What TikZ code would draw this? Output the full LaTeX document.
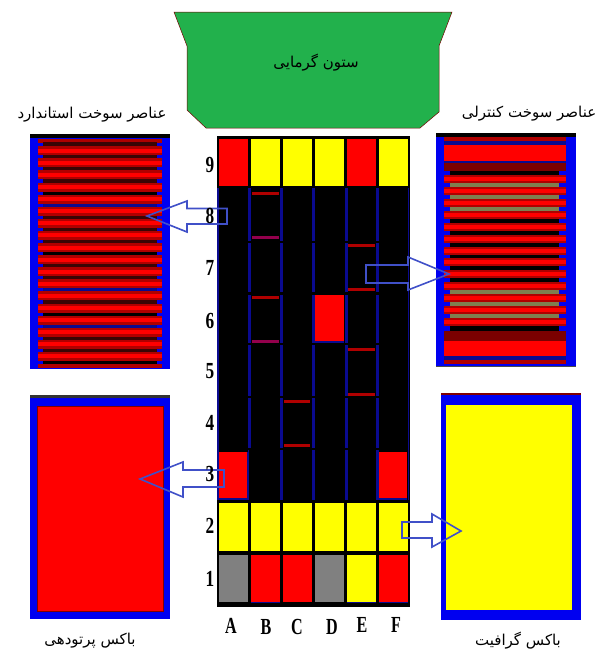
\documentclass[tikz,border=0pt]{standalone}
\usepackage{fontspec}
\usepackage{amsmath}
\usepackage{tikz}
\TeXXeTstate=1
\newfontfamily\arabicfont[Script=Arabic]{DejaVu Sans}
\newfontfamily\labelfont{Liberation Serif}

\definecolor{towergreen}{HTML}{22B14C}
\definecolor{boxblue}{HTML}{0000F0}
\definecolor{linenavy}{HTML}{0A0A90}
\definecolor{arrowblue}{HTML}{4050C8}
\definecolor{plateedge}{HTML}{B00000}
\definecolor{gapdark}{HTML}{3A0505}
\definecolor{rodolive}{HTML}{7F7F50}
\definecolor{boxyellow}{HTML}{FFFF00}

\tikzset{
  faname/.style={font=\arabicfont\fontsize{15}{17}\selectfont, inner sep=0pt},
  rowlabel/.style={font=\labelfont\bfseries\fontsize{23}{23}\selectfont, xscale=0.75, transform shape, inner sep=0pt},
  collabel/.style={font=\labelfont\bfseries\fontsize{23}{23}\selectfont, xscale=0.7, transform shape, inner sep=0pt},
  blockarrow/.style={draw=arrowblue, line width=1.6pt, line join=miter},
  redbar/.style={fill=plateedge},
  thinbar/.style={fill=violet!60!plateedge},
}

\begin{document}
\begin{tikzpicture}[x=1pt, y=-1pt]

\useasboundingbox (0,0) rectangle (606,653);

% thermal column
\draw[fill=towergreen, draw=red!45!black, line width=0.5pt] (174,12) -- (187,46) -- (187,110) -- (206,128)
  -- (420,128) -- (439,112) -- (439,46) -- (452,12) -- cycle;
\node[faname] (column) at (316,63) {\beginR ستون گرمایی\endR};

% core
\fill[black] (217,136) rectangle (410,607);

\foreach \x in {249,281,313,346,377}
  \foreach \ya/\yb in {188/241,243/292,295/343,345/396,398/448,450/500}
    \fill[linenavy] (\x-1.5,\ya) rectangle (\x+1.5,\yb);
\foreach \x in {218,408.5}
  \fill[linenavy] (\x-0.8,188) rectangle (\x+0.8,500);
\fill[black] (248.5,450) rectangle (279.5,500);

\foreach \x/\cola/\colb/\colc in {219/red/boxyellow/gray,251/boxyellow/boxyellow/red,283/boxyellow/boxyellow/red,
    315/boxyellow/boxyellow/gray,347/red/boxyellow/boxyellow,379/boxyellow/boxyellow/red} {
  \fill[\cola] (\x,139) rectangle (\x+28.5,186);
  \fill[\colb] (\x,503) rectangle (\x+28.5,551);
  \fill[\colc] (\x,555) rectangle (\x+28.5,602);
}
\foreach \x in {251,347,379}
  \fill[linenavy] (\x,602) rectangle (\x+28.5,603);

\fill[red] (219,451.5) rectangle (247,498);
\fill[red] (379,451.5) rectangle (407,498);
\fill[red] (315,295) rectangle (343.5,341);
\fill[linenavy] (219,498) rectangle (248.5,500);
\fill[linenavy] (247,451.5) rectangle (248.5,500);
\fill[linenavy] (379,498) rectangle (407,500);
\fill[linenavy] (315,341) rectangle (343.5,342.5);

\foreach \y in {193,297}
  \fill[redbar] (252,\y-1.5) rectangle (279,\y+1.5);
\foreach \y in {237,341}
  \fill[thinbar] (252,\y-1.5) rectangle (279,\y+1.5);
\foreach \y in {245,289,349,394}
  \fill[redbar] (348,\y-1.5) rectangle (375,\y+1.5);
\foreach \y in {401,445}
  \fill[redbar] (284,\y-1.5) rectangle (310,\y+1.5);

% standard fuel
\fill[boxblue] (30,134) rectangle (170,369);
\fill[black] (30,134) rectangle (170,138);
\fill[plateedge] (38,139) rectangle (162,142.5);
\fill[plateedge] (38,364) rectangle (162,368);
\foreach \y/\gapcol in {144.5/gapdark,157/gapdark,169/gapdark,181/gapdark,192.5/black,204.5/linenavy,217/gapdark,229/gapdark,
    241/gapdark,253/black,265/gapdark,277/gapdark,289.5/linenavy,301.5/gapdark,314/black,326/linenavy,338/gapdark,350/gapdark,361/black}
  \fill[\gapcol] (43,\y-3) rectangle (157,\y+3);
\foreach \y in {150.7,162.8,174.9,187,199.1,211.2,223.3,235.4,247.5,259.6,271.7,283.8,295.9,308,320.1,332.2,344.3,356.4} {
  \fill[plateedge] (38,\y-4.5) rectangle (162,\y+4.5);
  \fill[red] (38,\y-2) rectangle (162,\y+2);
}

% control fuel
\fill[boxblue] (436,133) rectangle (576,367);
\fill[black] (436,133) rectangle (576,137);
\fill[plateedge] (444,137) rectangle (566,141);
\fill[linenavy] (444,141) rectangle (566,145);
\fill[red] (444,145) rectangle (566,161);
\fill[linenavy] (444,161) rectangle (566,163);
\fill[plateedge!70!black] (444,163) rectangle (566,171);
\foreach \y/\gapcol in {173/black,185/rodolive,197/rodolive,209/rodolive,221/black,233/black,245/black,
    257/black,268/black,280/black,292/rodolive,304/rodolive,316/rodolive,328/black}
  \fill[\gapcol] (450,\y-2.5) rectangle (559,\y+2.5);
\foreach \y in {179,191,203,215,227,239,251,262,274,286,298,310,322} {
  \fill[plateedge] (444,\y-4) rectangle (566,\y+4);
  \fill[red] (444,\y-2) rectangle (566,\y+1.5);
}
\fill[plateedge!70!black] (444,331) rectangle (566,341);
\fill[red] (444,341) rectangle (566,356);
\fill[linenavy] (444,356) rectangle (566,360);
\fill[plateedge] (444,360) rectangle (566,364);
\fill[black!70] (436,366) rectangle (576,367.2);

% irradiation box
\fill[boxblue] (30,395) rectangle (170,619);
\fill[black!80] (30,395) rectangle (170,398);
\draw[fill=red, draw=red!50!black, line width=0.5pt] (37,406) rectangle (163,611);

% graphite box
\fill[boxblue] (441,393) rectangle (581,620);
\fill[red!50!black] (441,393) rectangle (581,395);
\fill[boxyellow] (446,405) rectangle (572,610);

% arrows
\draw[blockarrow] (147,216) -- (187,201) -- (187,208.5) -- (227,208.5) -- (227,224) -- (187,224) -- (187,232) -- cycle;
\draw[blockarrow] (449,274) -- (408,257) -- (408,265) -- (366,265) -- (366,283) -- (408,283) -- (408,290) -- cycle;
\draw[blockarrow] (140,479) -- (183,462) -- (183,470) -- (224,470) -- (224,487) -- (183,487) -- (183,497) -- cycle;
\draw[blockarrow] (461,531) -- (432,514) -- (432,522) -- (402,522) -- (402,538) -- (432,538) -- (432,547) -- cycle;

% row and column names
\foreach \r/\y in {9/165,8/216,7/268,6/321,5/371,4/423,3/474,2/526,1/579}
  \node[rowlabel] (row\r) at (210,\y) {\r};
\foreach \c/\x/\y in {A/231/626,B/266/627,C/297/627,D/332/627,E/362/625,F/396/625}
  \node[collabel] (col\c) at (\x,\y) {\c};

\node[faname] (stdname) at (92,115) {\beginR عناصر سوخت استاندارد\endR};
\node[faname] (ctrlname) at (529,114) {\beginR عناصر سوخت کنترلی\endR};
\node[faname] (irradname) at (90,641) {\beginR باکس پرتودهی\endR};
\node[faname] (graphname) at (518,641) {\beginR باکس گرافیت\endR};

\end{tikzpicture}
\end{document}
